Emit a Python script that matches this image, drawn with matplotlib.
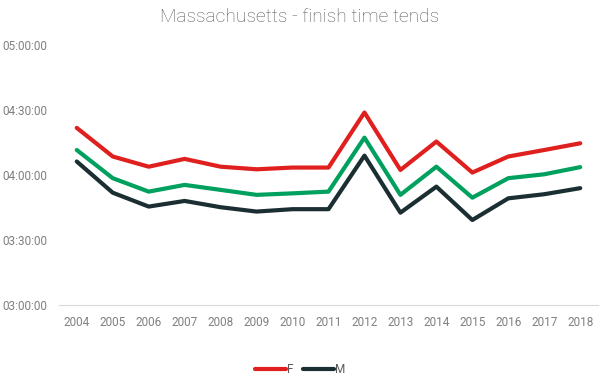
import matplotlib
matplotlib.use("Agg")
from matplotlib import pyplot as plt
from matplotlib.ticker import FuncFormatter, MultipleLocator

years = list(range(2004, 2019))

# finish times in minutes
female = [261.7, 248.5, 243.8, 247.4, 243.8, 242.6, 243.4, 243.4,
          268.8, 242.3, 255.4, 241.1, 248.5, 251.5, 254.6]
overall = [251.5, 238.5, 232.3, 235.4, 233.1, 230.8, 231.5, 232.3,
           257.2, 230.8, 243.8, 229.5, 238.5, 240.3, 243.6]
male = [246.2, 231.8, 225.4, 228.0, 225.1, 223.1, 224.2, 224.2,
        248.9, 222.6, 234.6, 219.2, 229.2, 231.1, 233.9]


def hms(v, pos=None):
    s = int(round(v * 60))
    return f"{s // 3600:02d}:{(s % 3600) // 60:02d}:{s % 60:02d}"


plt.rcParams['font.family'] = ['Roboto', 'DejaVu Sans']

fig = plt.figure(figsize=(6, 3.77), dpi=100)
ax = fig.add_axes([0.098, 0.191, 0.899, 0.690])

ax.plot(years, female, color='#e0201e', lw=3.0, label='F', solid_capstyle='round')
ax.plot(years, overall, color='#00a05e', lw=3.0, label='_all', solid_capstyle='round')
ax.plot(years, male, color='#1b2f33', lw=3.0, label='M', solid_capstyle='round')

ax.set_xlim(2003.5, 2018.5)
ax.set_ylim(180, 300)
ax.yaxis.set_major_locator(MultipleLocator(30))
ax.yaxis.set_major_formatter(FuncFormatter(hms))
ax.set_xticks(years)

for s in ['top', 'right', 'left']:
    ax.spines[s].set_visible(False)
ax.spines['bottom'].set_color('#d9d9d9')
ax.tick_params(length=0, colors='#808080', labelsize=8.5)
ax.tick_params(axis='y', pad=8)
ax.tick_params(axis='x', pad=8)

fig.suptitle('Massachusetts - finish time tends', y=0.98, fontsize=13.8,
             color='#595959', fontweight='light')

leg = fig.legend(loc='lower center', bbox_to_anchor=(0.5, -0.025), ncol=2,
                 frameon=False, fontsize=8.5, handlelength=2.6,
                 handletextpad=0.1, columnspacing=0.8)
for t in leg.get_texts():
    t.set_color('#595959')

fig.savefig('out.png', dpi=100)
